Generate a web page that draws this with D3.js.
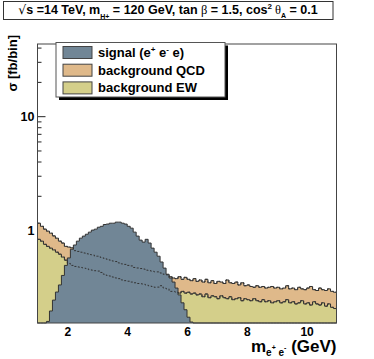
<!DOCTYPE html>
<html>
<head>
<meta charset="utf-8">
<script src="https://cdn.jsdelivr.net/npm/d3@7"></script>
<style>
    body { margin: 0; background: #fff; }
    svg { font-family: "Liberation Sans", Arial, sans-serif; }
</style>
</head>
<body>
<div id="d3-container"></div>
<script>
// histogram binning: 100 bins of 0.1 GeV from 1 to 11
const xLow = 1
const binWidth = 0.1

const signal = [0, 0, 0, 0.158, 0.195, 0.243, 0.286, 0.33, 0.40, 0.49,
    0.57, 0.68, 0.74, 0.80, 0.85, 0.886, 0.92, 0.96, 1.0, 1.02,
    1.06, 1.08, 1.12, 1.13, 1.15, 1.15, 1.175, 1.175, 1.15, 1.13,
    1.08, 1.04, 0.96, 0.886, 0.817, 0.785, 0.83, 0.77, 0.695, 0.64,
    0.59, 0.525, 0.464, 0.41, 0.38, 0.35, 0.31, 0.27, 0.23, 0.20,
    0.172, 0.156, 0, 0, 0, 0, 0, 0, 0, 0,
    0, 0, 0, 0, 0, 0, 0, 0, 0, 0,
    0, 0, 0, 0, 0, 0, 0, 0, 0, 0,
    0, 0, 0, 0, 0, 0, 0, 0, 0, 0,
    0, 0, 0, 0, 0, 0, 0, 0, 0, 0]

const bkgEW = [0.83, 0.80, 0.75, 0.72, 0.695, 0.67, 0.64, 0.615, 0.58, 0.545,
    0.51, 0.49, 0.48, 0.475, 0.47, 0.465, 0.46, 0.45, 0.445, 0.44,
    0.437, 0.425, 0.41, 0.40, 0.395, 0.387, 0.38, 0.375, 0.365, 0.36,
    0.356, 0.35, 0.345, 0.34, 0.338, 0.336, 0.33, 0.325, 0.32, 0.315,
    0.316, 0.325, 0.31, 0.305, 0.29, 0.29, 0.285, 0.28, 0.29, 0.28,
    0.285, 0.275, 0.28, 0.27, 0.275, 0.26, 0.275, 0.255, 0.265, 0.26,
    0.25, 0.265, 0.255, 0.25, 0.26, 0.245, 0.25, 0.255, 0.24, 0.25,
    0.245, 0.24, 0.25, 0.24, 0.235, 0.245, 0.235, 0.24, 0.23, 0.235,
    0.24, 0.23, 0.235, 0.245, 0.23, 0.235, 0.225, 0.23, 0.24, 0.225,
    0.23, 0.22, 0.235, 0.225, 0.22, 0.23, 0.215, 0.225, 0.21, 0.205]

const bkgQCD = [0.32, 0.28, 0.27, 0.26, 0.245, 0.22, 0.21, 0.185, 0.19, 0.175,
    0.20, 0.21, 0.18, 0.175, 0.17, 0.165, 0.16, 0.16, 0.16, 0.15,
    0.153, 0.15, 0.155, 0.155, 0.15, 0.148, 0.15, 0.14, 0.14, 0.14,
    0.134, 0.135, 0.125, 0.125, 0.122, 0.119, 0.115, 0.115, 0.115, 0.115,
    0.114, 0.095, 0.10, 0.10, 0.10, 0.09, 0.09, 0.11, 0.08, 0.105,
    0.085, 0.085, 0.095, 0.085, 0.09, 0.09, 0.095, 0.09, 0.095, 0.08,
    0.105, 0.085, 0.085, 0.115, 0.085, 0.095, 0.10, 0.075, 0.105, 0.075,
    0.085, 0.08, 0.065, 0.085, 0.08, 0.075, 0.075, 0.075, 0.09, 0.075,
    0.075, 0.075, 0.075, 0.08, 0.075, 0.075, 0.075, 0.085, 0.065, 0.075,
    0.08, 0.10, 0.065, 0.07, 0.09, 0.07, 0.08, 0.08, 0.08, 0.08]

const xTicks = [2, 4, 6, 8, 10]
const yMajor = [1, 10]
const yMinor = [2, 3, 4, 5, 6, 7, 8, 9, 20, 30, 40]

const legendItems = [
    { label: "signal (e", sup1: "+", mid: " e", sup2: "-", end: " e)", color: "#718696" },
    { label: "background QCD", color: "#dfb98a" },
    { label: "background EW", color: "#d4cf8a" }
]

const w = 374
const h = 359
const padL = 37.5, padR = 336.5, padT = 44, padB = 323

const svg = d3.select('#d3-container')
    .append('svg')
    .attr('width', w)
    .attr('height', h)

const xScale = d3.scaleLinear()
    .domain([1, 11])
    .range([padL, padR])

const yScale = d3.scaleLog()
    .domain([0.153, 43])
    .range([padB, padT])
    .clamp(true)

const yPos = v => v > 0 ? yScale(v) : padB

const boldLabels = (g, size) => g.selectAll('text')
    .attr('font-size', size)
    .attr('font-weight', 'bold')
    .attr('font-family', 'Liberation Sans, Arial, sans-serif')
    .attr('fill', '#000')

// axes go first so the fills sit over their ticks
svg.append('g')
    .attr('transform', 'translate(' + padL + ',0)')
    .call(d3.axisLeft(yScale).tickValues(yMinor).tickSize(-4).tickFormat(''))
    .call(g => g.select('.domain').remove())
    .call(g => g.selectAll('line').attr('stroke', '#222'))

svg.append('g')
    .attr('transform', 'translate(' + padL + ',0)')
    .call(d3.axisLeft(yScale).tickValues(yMajor).tickSize(-8).tickPadding(3).tickFormat(d3.format('d')))
    .call(g => g.select('.domain').remove())
    .call(g => g.selectAll('line').attr('stroke', '#222'))
    .call(g => boldLabels(g, 12.5))

svg.append('g')
    .attr('transform', 'translate(0,' + padB + ')')
    .call(d3.axisBottom(xScale).tickValues(xTicks).tickSize(-8).tickPadding(4))
    .call(g => g.select('.domain').remove())
    .call(g => g.selectAll('line').attr('stroke', '#222'))
    .call(g => boldLabels(g, 12))

// step points, one per bin edge
const stepPoints = (lo, hi) => {
    const pts = lo.map((d, i) => ({ x: xLow + i * binWidth, y0: d, y1: hi[i] }))
    const last = pts[pts.length - 1]
    pts.push({ x: xLow + lo.length * binWidth, y0: last.y0, y1: last.y1 })
    return pts
}

const stack = d3.stack().keys(['ew', 'qcd'])(bkgEW.map((d, i) => ({ ew: d, qcd: bkgQCD[i] })))
const ewTop = stack[0].map(d => d[1])
const totTop = stack[1].map(d => d[1])
const zeros = signal.map(() => 0)

const area = d3.area()
    .x(d => xScale(d.x))
    .y0(d => yPos(d.y0))
    .y1(d => yPos(d.y1))
    .curve(d3.curveStepAfter)

const line = d3.line()
    .x(d => xScale(d.x))
    .y(d => yPos(d.y1))
    .curve(d3.curveStepAfter)

const layers = [
    { vals: totTop, color: legendItems[1].color },
    { vals: ewTop, color: legendItems[2].color },
    { vals: signal, color: legendItems[0].color }
]

layers.forEach(l => {
    const pts = stepPoints(zeros, l.vals)
    svg.append('path')
        .attr('d', area(pts))
        .attr('fill', l.color)
    svg.append('path')
        .attr('d', line(pts))
        .attr('fill', 'none')
        .attr('stroke', '#333')
        .attr('stroke-width', 1)
})

// background outlines seen through the signal
;[totTop, ewTop].forEach(t => {
    svg.append('path')
        .attr('d', line(stepPoints(zeros, t)))
        .attr('fill', 'none')
        .attr('stroke', '#333')
        .attr('stroke-width', 1)
        .attr('stroke-dasharray', '2,2')
})

// frame
svg.append('rect')
    .attr('x', padL)
    .attr('y', padT)
    .attr('width', padR - padL)
    .attr('height', padB - padT)
    .attr('fill', 'none')
    .attr('stroke', '#444')
    .attr('stroke-width', 1)

// title box
svg.append('rect')
    .attr('x', 3.5).attr('y', 1.5)
    .attr('width', 329.5).attr('height', 18)
    .attr('fill', '#fff')
    .attr('stroke', '#333')

const title = svg.append('text')
    .attr('x', 168).attr('y', 14)
    .attr('text-anchor', 'middle')
    .attr('font-size', 12.5)
    .attr('font-weight', 'bold')
title.append('tspan').attr('font-weight', 'normal').attr('font-family', 'DejaVu Sans').text('\u221A')
title.append('tspan').text('s =14 TeV, m')
title.append('tspan').attr('font-size', 7).attr('dy', 5).text('H+')
title.append('tspan').attr('dy', -5).text(' = 120 GeV, tan ')
title.append('tspan').attr('font-weight', 'normal').attr('font-family', 'Liberation Serif').text('\u03B2')
title.append('tspan').text(' = 1.5, cos')
title.append('tspan').attr('font-size', 8).attr('dy', -5).text('2')
title.append('tspan').attr('dy', 5).attr('font-weight', 'normal').attr('font-family', 'Liberation Serif').text(' \u03B8')
title.append('tspan').attr('font-size', 7).attr('dy', 4).text('A')
title.append('tspan').attr('dy', -4).text(' = 0.1')

// legend
svg.append('rect')
    .attr('x', 59).attr('y', 45.5)
    .attr('width', 169).attr('height', 54.5)
    .attr('fill', '#000')
svg.append('rect')
    .attr('x', 56).attr('y', 42.5)
    .attr('width', 169).attr('height', 54.5)
    .attr('fill', '#fff')
    .attr('stroke', '#555')

const legend = svg.append('g')
legend.selectAll('rect')
    .data(legendItems)
    .enter()
    .append('rect')
    .attr('x', 63)
    .attr('y', (d, i) => 46.5 + i * 17.7)
    .attr('width', 29)
    .attr('height', 12)
    .attr('fill', d => d.color)
    .attr('stroke', '#444')

legend.selectAll('text')
    .data(legendItems)
    .enter()
    .append('text')
    .attr('x', 98)
    .attr('y', (d, i) => 57 + i * 17.7)
    .attr('font-size', 13)
    .attr('font-weight', 'bold')
    .each(function (d) {
        const t = d3.select(this)
        t.append('tspan').text(d.label)
        if (d.sup1) {
            t.append('tspan').attr('font-size', 8).attr('dy', -5).text(d.sup1)
            t.append('tspan').attr('dy', 5).text(d.mid)
            t.append('tspan').attr('font-size', 8).attr('dy', -5).text(d.sup2)
            t.append('tspan').attr('dy', 5).text(d.end)
        }
    })

// axis titles
svg.append('text')
    .attr('transform', 'translate(17,35) rotate(-90)')
    .attr('text-anchor', 'end')
    .attr('font-size', 13)
    .attr('font-weight', 'bold')
    .text('\u03C3 [fb/bin]')

const xTitle = svg.append('text')
    .attr('x', 336.5).attr('y', 352)
    .attr('text-anchor', 'end')
    .attr('font-size', 17)
    .attr('font-weight', 'bold')
xTitle.append('tspan').text('m')
xTitle.append('tspan').attr('font-size', 10).attr('dy', 4).text('e')
xTitle.append('tspan').attr('font-size', 7).attr('dy', -6).text('+')
xTitle.append('tspan').attr('font-size', 10).attr('dy', 6).text(' e')
xTitle.append('tspan').attr('font-size', 7).attr('dy', -6).text('-')
xTitle.append('tspan').attr('dy', 2).text(' (GeV)')
</script>
</body>
</html>
